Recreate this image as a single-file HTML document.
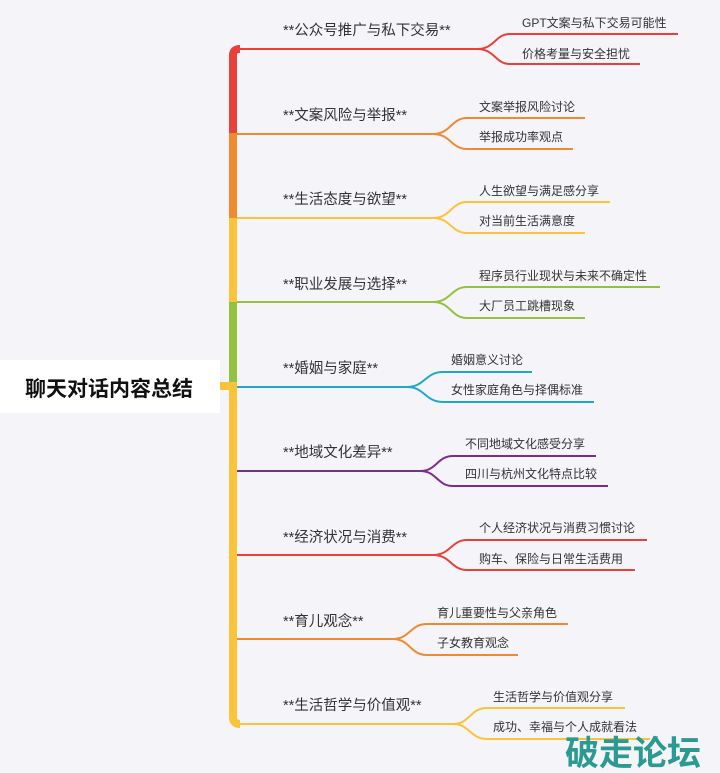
<!DOCTYPE html>
<html><head><meta charset="utf-8"><style>
html,body{margin:0;padding:0;background:#f4f4f9;}
svg{display:block;}
text{font-family:"Liberation Sans","Noto Sans CJK SC",sans-serif;}
.m{font-size:14.5px;fill:#333;}
.c{font-size:12px;fill:#333;}
</style></head><body>
<svg width="720" height="773" viewBox="0 0 720 773" xmlns="http://www.w3.org/2000/svg">
<rect width="720" height="773" fill="#f4f4f9"/>
<rect x="0" y="360" width="220" height="53" fill="#ffffff"/>
<text x="25" y="396" style="font-size:21px;font-weight:bold;fill:#111">聊天对话内容总结</text>
<path d="M233 133 V55 Q233 49 240 49" stroke="#e8413a" stroke-width="8" fill="none"/>
<rect x="229" y="133" width="8" height="85" fill="#f08a2e"/>
<rect x="229" y="218" width="8" height="84" fill="#f9c43a"/>
<rect x="229" y="302" width="8" height="81" fill="#94c23f"/>
<path d="M233 383 V717 Q233 724 240 724" stroke="#f9c43a" stroke-width="8" fill="none"/>
<rect x="220" y="382" width="17" height="8" fill="#f9c43a"/>
<g fill="none" stroke-width="2">
<g stroke="#e8413a"><path d="M237 49 H477 C495 49 495 34 510 34 H678"/><path d="M477 49 C495 49 495 64 510 64 H640"/></g>
<g stroke="#f08a2e"><path d="M237 134 H433 C451 134 451 118 467 118 H585"/><path d="M433 134 C451 134 451 149 467 149 H573"/></g>
<g stroke="#f9c43a"><path d="M237 218 H433 C451 218 451 202 467 202 H610"/><path d="M433 218 C451 218 451 233 467 233 H585"/></g>
<g stroke="#94c23f"><path d="M237 302 H433 C451 302 451 287 467 287 H660"/><path d="M433 302 C451 302 451 318 467 318 H585"/></g>
<g stroke="#1fa8c9"><path d="M237 387 H407 C425 387 425 372 443 372 H532"/><path d="M407 387 C425 387 425 402 443 402 H594"/></g>
<g stroke="#7b2d8e"><path d="M237 471 H420 C437 471 437 456 453 456 H596"/><path d="M420 471 C437 471 437 486 453 486 H608"/></g>
<g stroke="#e8413a"><path d="M237 555 H433 C451 555 451 540 467 540 H647"/><path d="M433 555 C451 555 451 570 467 570 H635"/></g>
<g stroke="#f08a2e"><path d="M237 639 H393 C410 639 410 624 427 624 H568"/><path d="M393 639 C410 639 410 655 427 655 H518"/></g>
<g stroke="#f9c43a"><path d="M240 724 H453 C470 724 470 708 487 708 H625"/><path d="M453 724 C470 724 470 739 487 739 H650"/></g>
</g>
<text class="m" x="283" y="35">**公众号推广与私下交易**</text>
<text class="m" x="283" y="120">**文案风险与举报**</text>
<text class="m" x="283" y="204">**生活态度与欲望**</text>
<text class="m" x="283" y="289">**职业发展与选择**</text>
<text class="m" x="283" y="373">**婚姻与家庭**</text>
<text class="m" x="283" y="457">**地域文化差异**</text>
<text class="m" x="283" y="542">**经济状况与消费**</text>
<text class="m" x="283" y="626">**育儿观念**</text>
<text class="m" x="283" y="710">**生活哲学与价值观**</text>
<text class="c" x="522" y="27">GPT文案与私下交易可能性</text>
<text class="c" x="522" y="58">价格考量与安全担忧</text>
<text class="c" x="479" y="111">文案举报风险讨论</text>
<text class="c" x="479" y="141">举报成功率观点</text>
<text class="c" x="479" y="195">人生欲望与满足感分享</text>
<text class="c" x="479" y="225">对当前生活满意度</text>
<text class="c" x="479" y="280">程序员行业现状与未来不确定性</text>
<text class="c" x="479" y="310">大厂员工跳槽现象</text>
<text class="c" x="451" y="364">婚姻意义讨论</text>
<text class="c" x="451" y="394">女性家庭角色与择偶标准</text>
<text class="c" x="465" y="448">不同地域文化感受分享</text>
<text class="c" x="465" y="478">四川与杭州文化特点比较</text>
<text class="c" x="479" y="532">个人经济状况与消费习惯讨论</text>
<text class="c" x="479" y="563">购车、保险与日常生活费用</text>
<text class="c" x="437" y="617">育儿重要性与父亲角色</text>
<text class="c" x="437" y="647">子女教育观念</text>
<text class="c" x="493" y="701">生活哲学与价值观分享</text>
<text class="c" x="493" y="731">成功、幸福与个人成就看法</text>
<text x="565" y="765" style="font-size:34px;font-weight:bold;fill:#2a9a92;font-family:'Noto Sans CJK SC','WenQuanYi Zen Hei',sans-serif">破走论坛</text>
</svg>
</body></html>
